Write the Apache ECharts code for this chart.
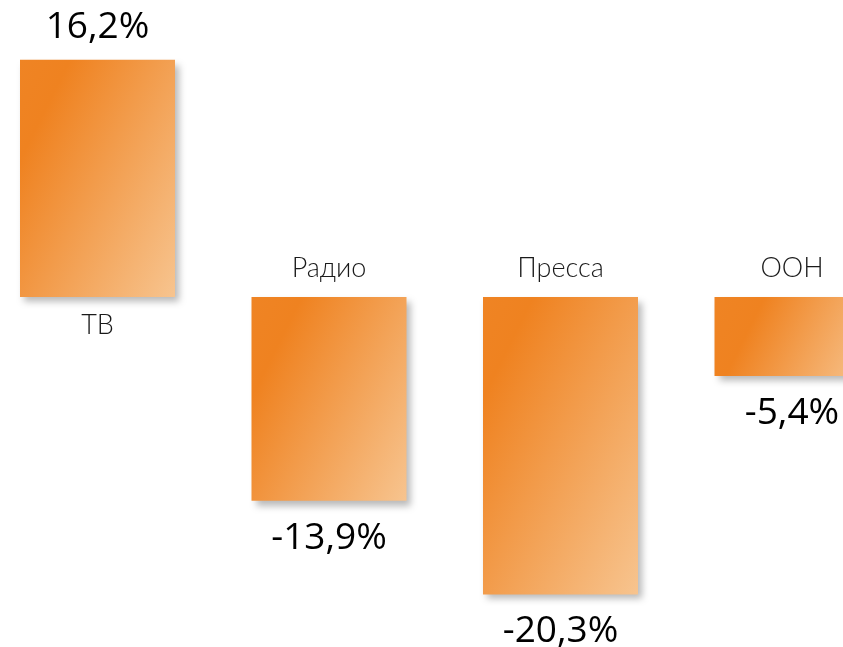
<!DOCTYPE html>
<html>
<head>
<meta charset="utf-8">
<script src="https://cdn.jsdelivr.net/npm/echarts@6/dist/echarts.min.js"></script>
<style>
  html, body { margin: 0; padding: 0; background: #fff; }
  #chart { width: 843px; height: 647px; }
</style>
</head>
<body>
<div id="chart"></div>
<script>
// chart data
const categories = ['ТВ', 'Радио', 'Пресса', 'OOH'];
const values = [16.2, -13.9, -20.3, -5.4];

const chart = echarts.init(document.getElementById('chart'));

const BAR_W = 155;
const Y_MIN = -24, Y_MAX = 20, GRID_H = 644.6;
const pxPerUnit = GRID_H / (Y_MAX - Y_MIN);

// gradient runs in a fixed pixel direction (2:1), so rescale it per bar box
function barGradient(v) {
  const w = BAR_W, h = Math.abs(v) * pxPerUnit;
  const s5 = Math.sqrt(5);
  const len = (2 * w + h) / s5;
  const ridge = Math.min(0.5, 45 / len);
  return new echarts.graphic.LinearGradient(0, 0, (len * 2) / (s5 * w), len / (s5 * h), [
    { offset: 0, color: '#EF8424' },
    { offset: ridge, color: '#EF8220' },
    { offset: 1, color: '#F7C48F' },
  ]);
}

// value labels sit outside the bar end, names on the zero-line side
const valueData = values.map((v) => ({
  value: v,
  itemStyle: { color: barGradient(v) },
  label: { position: v >= 0 ? 'top' : 'bottom', distance: v >= 0 ? 14 : 19 },
}));
const nameData = values.map((v) => ({
  value: v,
  label: { position: v >= 0 ? 'bottom' : 'top' },
}));

const option = {
  animation: false,
  backgroundColor: '#fff',
  grid: { left: -18.25, width: 926, top: 4, height: GRID_H, outerBoundsMode: 'none' },
  xAxis: {
    type: 'category',
    data: categories,
    show: false,
  },
  yAxis: {
    type: 'value',
    min: Y_MIN,
    max: Y_MAX,
    show: false,
  },
  series: [
    {
      type: 'bar',
      barWidth: BAR_W,
      data: valueData,
      itemStyle: {
        shadowColor: 'rgba(0,0,0,0.28)',
        shadowBlur: 7,
        shadowOffsetX: 4,
        shadowOffsetY: 5,
      },
      label: {
        show: true,
        color: '#000',
        fontFamily: 'Open Sans',
        fontSize: 37,
        formatter: (p) => String(p.value).replace('.', ',') + '%',
      },
    },
    {
      type: 'bar',
      barWidth: BAR_W,
      barGap: '-100%',
      data: nameData,
      itemStyle: { color: 'rgba(0,0,0,0)' },
      label: {
        show: true,
        distance: 15,
        color: '#1a1a1a',
        fontFamily: 'Lato',
        fontWeight: 300,
        fontSize: 27,
        formatter: (p) => categories[p.dataIndex],
      },
    },
  ],
};

chart.setOption(option);
</script>
</body>
</html>
